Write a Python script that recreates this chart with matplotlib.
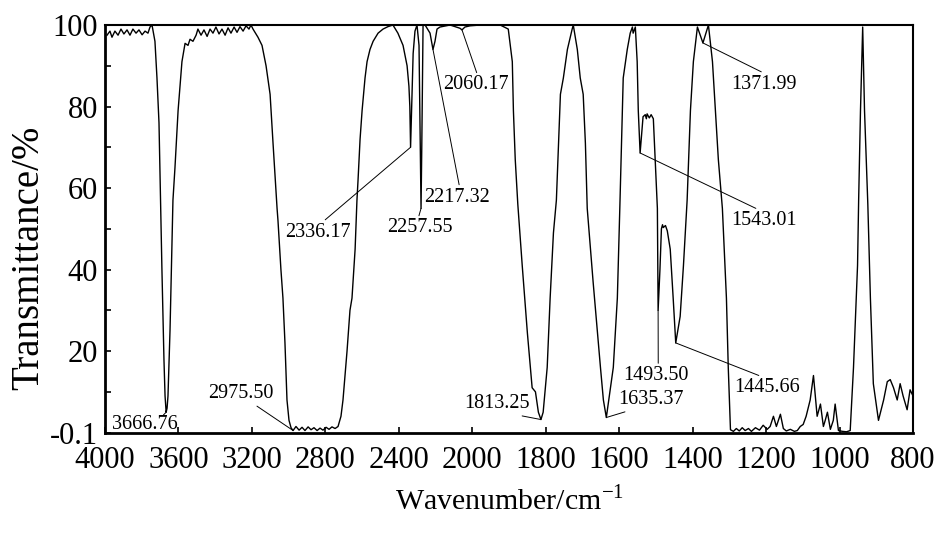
import numpy as np
import matplotlib
matplotlib.use("Agg")
import matplotlib.pyplot as plt

plt.rcParams['font.family'] = ['Liberation Serif', 'DejaVu Serif']
plt.rcParams['mathtext.fontset'] = 'custom'
plt.rcParams['mathtext.rm'] = 'Liberation Serif'

# spectrum (wavenumber cm-1, transmittance %)
wavenumber = [
    3989, 3973, 3962, 3946, 3929, 3913, 3897, 3880, 3864, 3848, 3831, 3815, 3798, 3782, 3766, 3755,
    3744, 3728, 3717, 3706, 3700, 3690, 3679, 3673, 3667, 3662, 3657, 3646, 3630, 3619, 3602, 3581,
    3564, 3548, 3537, 3521, 3504, 3494, 3477, 3461, 3444, 3428, 3412, 3396, 3379, 3363, 3346, 3330,
    3314, 3297, 3281, 3265, 3248, 3232, 3216, 3205, 3194, 3167, 3145, 3123, 3101, 3085, 3063, 3058,
    3042, 3031, 3020, 3009, 2998, 2987, 2976, 2960, 2943, 2927, 2911, 2894, 2878, 2862, 2845, 2829,
    2813, 2796, 2780, 2764, 2747, 2731, 2715, 2704, 2682, 2666, 2655, 2638, 2628, 2622, 2611, 2600,
    2584, 2573, 2557, 2540, 2513, 2486, 2459, 2432, 2405, 2377, 2355, 2345, 2340, 2336, 2327, 2322,
    2312, 2301, 2290, 2283, 2279, 2275, 2268, 2257, 2230, 2214, 2203, 2192, 2176, 2121, 2094, 2067,
    2056, 2040, 2012, 1978, 1924, 1902, 1891, 1888, 1883, 1876, 1864, 1850, 1837, 1828, 1820, 1813,
    1807, 1796, 1788, 1779, 1771, 1760, 1752, 1741, 1728, 1725, 1714, 1706, 1698, 1692, 1687, 1671,
    1651, 1643, 1635, 1616, 1605, 1598, 1589, 1578, 1570, 1564, 1562, 1556, 1551, 1548, 1543, 1540,
    1535, 1529, 1526, 1524, 1518, 1513, 1507, 1502, 1496, 1494, 1489, 1485, 1482, 1480, 1474, 1469,
    1461, 1453, 1446, 1434, 1425, 1415, 1406, 1398, 1387, 1372, 1357, 1346, 1338, 1330, 1319, 1308,
    1303, 1297, 1289, 1281, 1273, 1265, 1257, 1248, 1240, 1229, 1218, 1208, 1197, 1189, 1180, 1172,
    1161, 1153, 1145, 1134, 1123, 1115, 1107, 1099, 1091, 1080, 1071, 1066, 1061, 1052, 1044, 1039,
    1033, 1025, 1017, 1012, 1003, 992, 981, 971, 962, 951, 948, 943, 937, 932, 923, 916,
    908, 894, 880, 870, 862, 853, 843, 835, 827, 816, 808, 800,
]
transmittance = [
    97.5, 98.5, 97.0, 98.5, 97.5, 99.0, 97.8, 98.8, 97.5, 99.0, 98.0, 98.8, 97.6, 98.5, 98.0, 99.5,
    100, 96, 87, 76, 62, 40, 18, 9, 5, 6, 9, 25, 57, 65, 79, 91,
    95.5, 95, 96.5, 96, 97.5, 99, 97.5, 98.8, 97.2, 99, 98, 99.5, 97.8, 99, 97.5, 99.3,
    98, 99.5, 98.2, 99.6, 98.5, 99.8, 99, 100, 99, 97, 95, 90, 83, 71, 55, 52,
    40, 33, 22, 8, 3, 1.2, 0.5, 1.5, 0.6, 1.3, 0.5, 1.4, 0.7, 1.2, 0.5, 1.1,
    0.6, 1.3, 0.8, 1.4, 1.0, 1.5, 4, 8, 20, 30, 33, 45, 57, 62, 72, 79,
    87, 91, 94, 96, 98, 99, 99.6, 100, 98, 95, 90, 85, 80, 70, 85, 93,
    98.5, 100, 95, 70, 55, 70, 100, 100, 98, 94, 96, 99, 99.5, 100, 99.6, 99.2,
    98.8, 99.5, 99.8, 100, 100, 99, 91, 79, 67, 56, 41, 24.5, 11, 10, 5, 3.2,
    5, 16, 33, 49, 57, 83, 87, 94, 99, 100, 94, 87, 83, 71, 55, 37,
    16, 8, 3.7, 16, 33, 56, 87, 94, 98, 99.5, 98, 99.5, 91, 79, 68.6, 72,
    77.5, 78, 77, 78.2, 77.2, 78, 77, 67, 55, 30, 40, 50, 51, 50.3, 50.8, 49.5,
    45, 33, 22, 28.5, 41, 57, 79, 91, 99.5, 95.6, 100, 91, 79, 67, 55, 33,
    16, 0.7, 0.3, 1.0, 0.4, 1.2, 0.5, 1.0, 0.3, 1.2, 0.6, 1.8, 0.8, 1.5, 4, 1.5,
    4.5, 1.0, 0.4, 0.8, 0.3, 0.5, 1.5, 2, 4, 8, 14, 9, 4, 7, 1.5, 3,
    5, 0.8, 3, 7, 0.5, 0.3, 0.2, 0.5, 16, 41, 57, 79, 99.5, 79, 56, 33,
    12, 3, 8, 12.5, 13, 11, 8, 12, 9, 5.6, 10.5, 9,
]

# labelled bands: text, band position, band value, text position (wavenumber, T), leader anchor on text
peak_labels = ['3666.76', '2975.50', '2336.17', '2257.55', '2217.32', '2060.17',
               '1813.25', '1635.37', '1493.50', '1445.66', '1543.01', '1371.99']
peak_wn = [3667, 2975.5, 2336, 2279, 2214, 2056, 1813, 1635, 1494, 1446, 1543, 1372]
peak_t = [5, 0.5, 70, 55, 94, 98.8, 3.2, 3.7, 30, 22, 68.6, 95.6]
text_wn = [3782, 3259, 2840, 2284, 2083, 1989, 1932, 1513, 1499, 1197, 1205, 1205]
text_t = [2.0, 9.5, 49.2, 50.2, 57.8, 85.3, 7.1, 8.1, 14.0, 11.0, 52.0, 85.5]
text_rel = [(0.78, 1), (0.68, 0), (0.56, 1), (0.47, 1), (0.54, 1), (0.52, 1),
            (0.66, 0), (0.24, 0), (0.53, 1), (0.48, 1), (0.46, 1), (0.54, 1)]

xticks = [4000, 3600, 3200, 2800, 2400, 2000, 1800, 1600, 1400, 1200, 1000, 800]
yticks = [-0.1, 20, 40, 60, 80, 100]


def fwd(w):
    w = np.asarray(w, dtype=float)
    return np.where(w >= 2000, (w - 2000) / 400, (w - 2000) / 200)


def inv(u):
    u = np.asarray(u, dtype=float)
    return np.where(u >= 0, 2000 + 400 * u, 2000 + 200 * u)


fig = plt.figure(figsize=(9.36, 5.33), dpi=100)
ax = fig.add_axes([105 / 936, 1 - 433 / 533, 808 / 936, 408 / 533])
ax.set_xscale('function', functions=(fwd, inv))

ax.plot(wavenumber, transmittance, color='black', lw=1.0)

for lab, pw, pt, tw, tt, rel in zip(peak_labels, peak_wn, peak_t, text_wn, text_t, text_rel):
    ax.annotate(lab, xy=(pw, pt), xytext=(tw, tt), ha='center', va='center', fontsize=14.5,
                arrowprops=dict(arrowstyle='-', lw=0.7, color='black', shrinkA=0, shrinkB=0,
                                relpos=rel))

ax.set_xlim(4000, 800)
ax.set_ylim(-0.1, 100)
ax.set_xticks(xticks)
ax.set_xticklabels([str(t) for t in xticks])
ax.set_xticks([], minor=True)
ax.set_yticks(yticks)
ax.set_yticklabels(['-0.1', '20', '40', '60', '80', '100'])
ax.set_yticks([10, 30, 50, 70, 90], minor=True)
ax.tick_params(axis='both', which='both', direction='in', length=4, width=1.2, labelsize=22)
ax.tick_params(axis='x', pad=9)
ax.tick_params(axis='y', pad=5)

for side in ['top', 'right']:
    ax.spines[side].set_linewidth(1.5)
for side in ['left', 'bottom']:
    ax.spines[side].set_linewidth(2)

ax.set_xlabel(r'Wavenumber/cm$^{-1}$', fontsize=21.5, labelpad=8)
ax.set_ylabel('Transmittance/%', fontsize=28)
ax.yaxis.set_label_coords(-0.072, 0.43)

fig.savefig('out.png', dpi=100)
